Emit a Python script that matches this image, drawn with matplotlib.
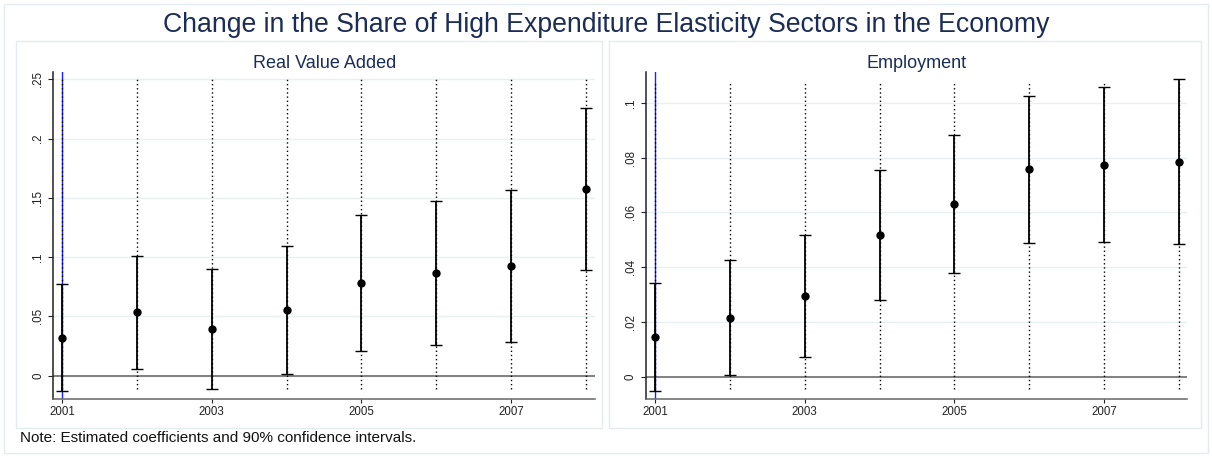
import numpy as np
import matplotlib
matplotlib.use("Agg")
import matplotlib.pyplot as plt
from matplotlib.patches import Rectangle

plt.rcParams['font.family'] = ['Liberation Sans', 'DejaVu Sans']

# Event-study estimates and 90% CIs
years = [2001, 2002, 2003, 2004, 2005, 2006, 2007, 2008]
xtick_years = [2001, 2003, 2005, 2007]

rva_coef = [0.032, 0.0535, 0.0396, 0.0554, 0.0779, 0.0864, 0.0925, 0.1575]
rva_lo = [-0.013, 0.006, -0.011, 0.0017, 0.0206, 0.0256, 0.028, 0.089]
rva_hi = [0.077, 0.101, 0.0903, 0.1097, 0.1353, 0.147, 0.157, 0.2258]

emp_coef = [0.0145, 0.0216, 0.0294, 0.0517, 0.0631, 0.0757, 0.0775, 0.0785]
emp_lo = [-0.0053, 0.0005, 0.0071, 0.0279, 0.0379, 0.049, 0.0491, 0.0483]
emp_hi = [0.0344, 0.0426, 0.0517, 0.0755, 0.0883, 0.1024, 0.106, 0.1086]

rva_yticks = [0, 0.05, 0.1, 0.15, 0.2, 0.25]
rva_ylabels = ['0', '.05', '.1', '.15', '.2', '.25']
emp_yticks = [0, 0.02, 0.04, 0.06, 0.08, 0.1]
emp_ylabels = ['0', '.02', '.04', '.06', '.08', '.1']

# vertical extent of the dotted year guides
rva_guide = (-0.011, 0.25)
emp_guide = (-0.0046, 0.108)

base_year = 2001

W, H = 1212, 457
fig = plt.figure(figsize=(W / 100, H / 100), dpi=100)
fig.patch.set_facecolor('white')

navy = '#1c2d55'
frame_col = '#e4ecef'
grid_col = '#e8f0f1'


def px_rect(x0, y0, x1, y1):
    return [x0 / W, 1 - y1 / H, (x1 - x0) / W, (y1 - y0) / H]


# light frames around the whole graph and each panel
for (x0, y0, x1, y1) in [(4, 4, 1208, 453), (16, 41, 602, 428), (609, 41, 1201, 428)]:
    fig.patches.append(Rectangle((x0 / W, 1 - y1 / H), (x1 - x0) / W, (y1 - y0) / H,
                                 transform=fig.transFigure, fill=False,
                                 edgecolor=frame_col, linewidth=1))


def panel(rect, coef, lo, hi, yticks, ylabels, ylim, xlim, guide, title):
    ax = fig.add_axes(rect)
    ax.set_facecolor('white')
    ax.set_xlim(*xlim)
    ax.set_ylim(*ylim)
    for s in ['top', 'right']:
        ax.spines[s].set_visible(False)
    ax.spines['left'].set_color('#222222')
    ax.spines['bottom'].set_color('#666666')
    ax.spines['left'].set_linewidth(1.1)
    ax.spines['bottom'].set_linewidth(1.1)

    for t in yticks:
        ax.axhline(t, color=grid_col, linewidth=1.0, zorder=0)
    ax.axhline(0, color='#777777', linewidth=1.3, zorder=1)
    ax.axvline(base_year, color='#1f1fff', linewidth=1.0, zorder=1)

    ax.vlines(years, guide[0], guide[1], colors='black', linewidth=1.0,
              linestyles=(0, (1, 2)), zorder=2)

    c = np.array(coef)
    err = [c - np.array(lo), np.array(hi) - c]
    ax.errorbar(years, coef, yerr=err, fmt='none', ecolor='black',
                elinewidth=1.3, capsize=4, capthick=1.0, zorder=3)
    ax.plot(years, coef, 'o', color='black', markersize=5, zorder=4)

    ax.set_yticks(yticks)
    ax.set_yticklabels(ylabels, rotation=90, va='center')
    ax.set_xticks(xtick_years)
    ax.set_xticklabels([str(y) for y in xtick_years])
    ax.tick_params(axis='y', length=3.6, width=0.8, pad=3.0, labelsize=8.3, colors='#222222')
    ax.tick_params(axis='x', length=3.0, width=0.8, pad=2, labelsize=8.3, colors='#222222')

    ax.set_title(title, fontsize=13, color=navy, pad=3)
    return ax


panel(px_rect(53.3, 72, 595, 399), rva_coef, rva_lo, rva_hi,
      rva_yticks, rva_ylabels, (-0.0197, 0.2562), (2000.884, 2008.12),
      rva_guide, 'Real Value Added')
panel(px_rect(646, 72, 1187, 399), emp_coef, emp_lo, emp_hi,
      emp_yticks, emp_ylabels, (-0.00815, 0.1113), (2000.88, 2008.107),
      emp_guide, 'Employment')

fig.text(0.5, 1 - 25 / H, 'Change in the Share of High Expenditure Elasticity Sectors in the Economy',
         ha='center', va='center', fontsize=19.2, color=navy)
fig.text(20 / W, 1 - 438 / H, 'Note: Estimated coefficients and 90% confidence intervals.',
         ha='left', va='center', fontsize=11, color='#111111')

fig.savefig('out.png', dpi=100)
